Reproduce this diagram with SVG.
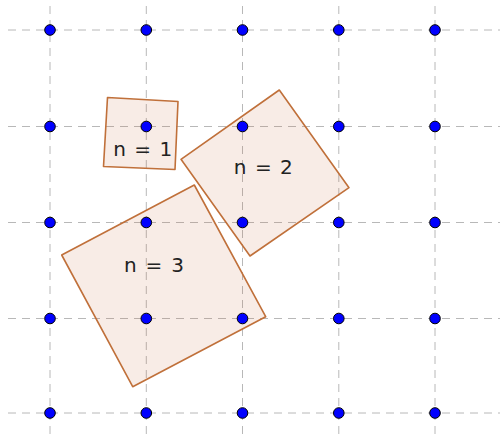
<svg xmlns="http://www.w3.org/2000/svg" width="500" height="439" viewBox="0 0 500 439">
<style>
.grid{stroke:#b8b8b8;stroke-width:1;stroke-dasharray:8 6;fill:none}
.sq{fill:#c8703c;fill-opacity:0.13;stroke:#c0703a;stroke-width:1.6;stroke-linejoin:round}
.dot{fill:#0000ff;stroke:#000;stroke-width:1}
.lbl{font-family:"DejaVu Sans",sans-serif;font-size:20px;fill:#222;text-anchor:middle}
</style>
<rect width="500" height="439" fill="#fff"/>
<g id="grid">
<path class="grid" d="M8 30H500M8 126.5H500M8 222.5H500M8 318.5H500M8 413H500"/>
<path class="grid" d="M50 6V439M146.3 6V439M242.5 6V439M338.8 6V439M435 6V439"/>
</g>
<g id="connectors"></g>
<g id="square1"><polygon class="sq" points="107.5,97.5 178,101.5 175,169.5 103.5,166.5"/></g>
<g id="square2"><polygon class="sq" points="279.3,90 349,187.7 250,256 181,159.3"/></g>
<g id="square3"><polygon class="sq" points="194.3,185 265.7,316.7 132.7,386.7 61.7,255"/></g>
<g id="dots">
<circle class="dot" cx="50" cy="30" r="5.3"/><circle class="dot" cx="146.3" cy="30" r="5.3"/><circle class="dot" cx="242.5" cy="30" r="5.3"/><circle class="dot" cx="338.8" cy="30" r="5.3"/><circle class="dot" cx="435" cy="30" r="5.3"/>
<circle class="dot" cx="50" cy="126.5" r="5.3"/><circle class="dot" cx="146.3" cy="126.5" r="5.3"/><circle class="dot" cx="242.5" cy="126.5" r="5.3"/><circle class="dot" cx="338.8" cy="126.5" r="5.3"/><circle class="dot" cx="435" cy="126.5" r="5.3"/>
<circle class="dot" cx="50" cy="222.5" r="5.3"/><circle class="dot" cx="146.3" cy="222.5" r="5.3"/><circle class="dot" cx="242.5" cy="222.5" r="5.3"/><circle class="dot" cx="338.8" cy="222.5" r="5.3"/><circle class="dot" cx="435" cy="222.5" r="5.3"/>
<circle class="dot" cx="50" cy="318.5" r="5.3"/><circle class="dot" cx="146.3" cy="318.5" r="5.3"/><circle class="dot" cx="242.5" cy="318.5" r="5.3"/><circle class="dot" cx="338.8" cy="318.5" r="5.3"/><circle class="dot" cx="435" cy="318.5" r="5.3"/>
<circle class="dot" cx="50" cy="413" r="5.3"/><circle class="dot" cx="146.3" cy="413" r="5.3"/><circle class="dot" cx="242.5" cy="413" r="5.3"/><circle class="dot" cx="338.8" cy="413" r="5.3"/><circle class="dot" cx="435" cy="413" r="5.3"/>
</g>
<g id="labels">
<text class="lbl" x="142.7" y="155.5" textLength="59" lengthAdjust="spacing">n = 1</text>
<text class="lbl" x="263.3" y="174" textLength="59" lengthAdjust="spacing">n = 2</text>
<text class="lbl" x="154" y="272" textLength="60" lengthAdjust="spacing">n = 3</text>
</g>
</svg>
